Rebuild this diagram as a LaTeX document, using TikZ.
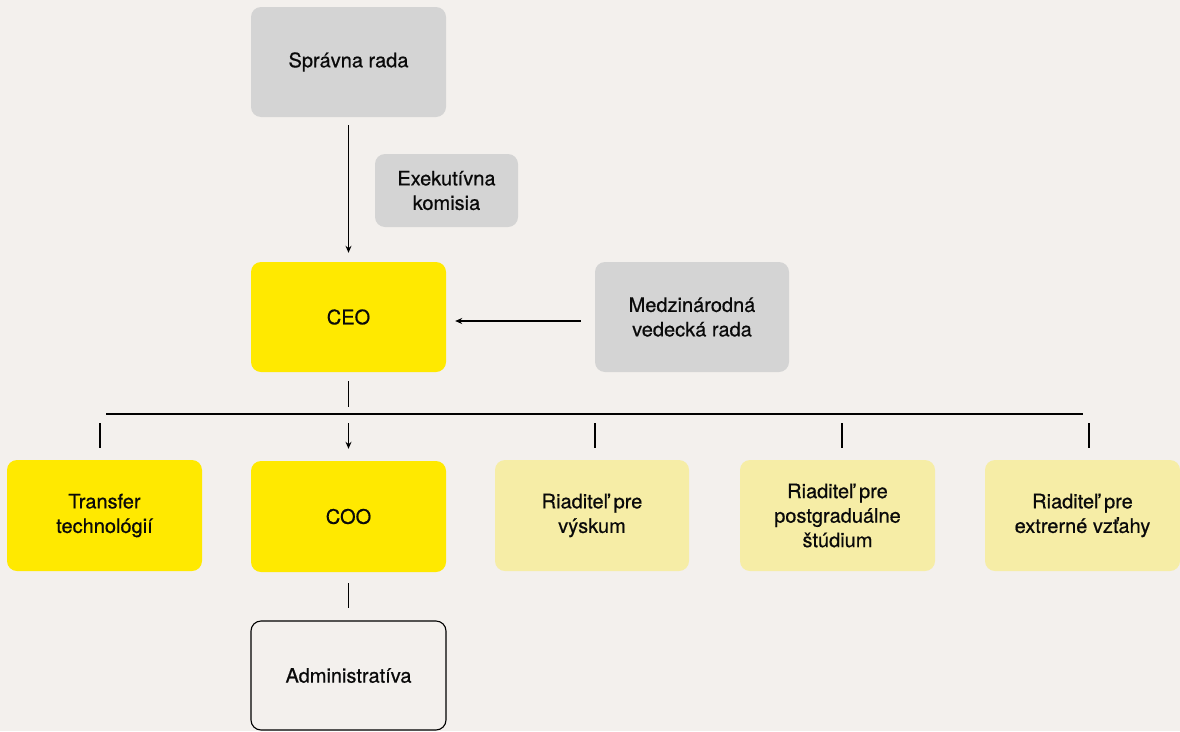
\documentclass[tikz,border=0pt]{standalone}
\usepackage{fontspec}
\setmainfont{TeX Gyre Heros}
\usetikzlibrary{arrows.meta}
\definecolor{bgc}{HTML}{F3F0ED}
\definecolor{grayc}{HTML}{D4D4D4}
\definecolor{yelc}{HTML}{FFE900}
\definecolor{lyelc}{HTML}{F6EDA6}
\definecolor{txtc}{HTML}{0A0A0A}
\tikzset{
  box/.style={rectangle, rounded corners=10pt, align=center, text=txtc,
    font=\fontsize{20}{24.5}\selectfont\addfontfeature{FakeBold=0.6}, inner sep=0pt},
  graybox/.style={box, fill=grayc},
  yelbox/.style={box, fill=yelc},
  lyelbox/.style={box, fill=lyelc},
  outbox/.style={box, draw=black, line width=1.1pt},
  conn/.style={line width=1.1pt, draw=black},
  arr/.style={conn, -{Stealth[length=7pt,width=6pt]}},
}
\begin{document}
\begin{tikzpicture}[x=1pt,y=-1pt]
\useasboundingbox[fill=bgc] (0,0) rectangle (1180,731);
% nodes
\node[graybox, minimum width=195pt, minimum height=110pt] (sr) at (348.5,62) {Správna rada};
\node[graybox, minimum width=143pt, minimum height=73pt] (ek) at (446.5,190.5) {Exekutívna\\komisia};
\node[yelbox, minimum width=195pt, minimum height=110pt] (ceo) at (348.5,317) {CEO};
\node[graybox, minimum width=194pt, minimum height=110pt] (mvr) at (692,317) {Medzinárodná\\vedecká rada};
\node[yelbox, minimum width=195pt, minimum height=111pt] (tt) at (104.5,515.5) {Transfer\\technológií};
\node[yelbox, minimum width=195pt, minimum height=111pt] (coo) at (348.5,516.5) {COO};
\node[lyelbox, minimum width=194pt, minimum height=111pt] (rv) at (592,515.5) {Riaditeľ pre\\výskum};
\node[lyelbox, minimum width=195pt, minimum height=111pt] (rp) at (837.5,515.5) {Riaditeľ pre\\postgraduálne\\štúdium};
\node[lyelbox, minimum width=195pt, minimum height=111pt] (re) at (1082.5,515.5) {Riaditeľ pre\\extrerné vzťahy};
\node[outbox, minimum width=195pt, minimum height=109pt] (adm) at (348.5,675.5) {Administratíva};
% bus coordinates
\coordinate (busL) at (106,414);
\coordinate (busR) at (1083,414);
\coordinate (busC) at (348.5,414);
\coordinate (b1) at (100,414);
\coordinate (b3) at (595,414);
\coordinate (b4) at (842,414);
\coordinate (b5) at (1089,414);
% connectors
\draw[arr, shorten <=8pt, shorten >=9pt] (sr.south) -- (ceo.north);
\draw[arr, shorten <=14pt, shorten >=9pt] ([yshift=-4pt]mvr.west) -- ([yshift=-4pt]ceo.east);
\draw[conn, shorten <=9pt, shorten >=7pt] (ceo.south) -- (busC);
\draw[conn] (busL) -- (busR);
\draw[arr, shorten <=9pt, shorten >=12pt] (busC) -- (coo.north);
\draw[conn, shorten <=9pt, shorten >=12pt] (b1) -- (b1 |- tt.north);
\draw[conn, shorten <=9pt, shorten >=12pt] (b3) -- (b3 |- rv.north);
\draw[conn, shorten <=9pt, shorten >=12pt] (b4) -- (b4 |- rp.north);
\draw[conn, shorten <=9pt, shorten >=12pt] (b5) -- (b5 |- re.north);
\draw[conn, shorten <=11pt, shorten >=12pt] (coo.south) -- (adm.north);
\end{tikzpicture}
\end{document}
